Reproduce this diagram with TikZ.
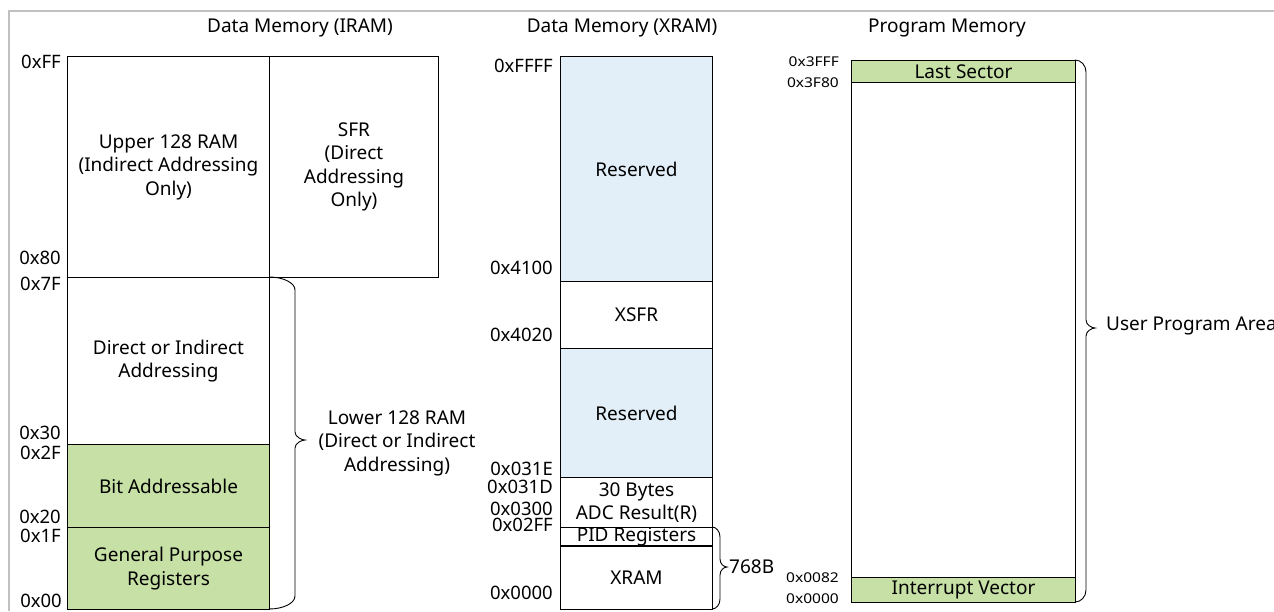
\documentclass[tikz,border=0pt]{standalone}
\usepackage{fontspec}
\usepackage{graphicx}
\setmainfont{Noto Sans}
\definecolor{grn}{RGB}{198,224,165}
\definecolor{blu}{RGB}{226,239,248}
\definecolor{frm}{RGB}{192,192,192}
\newcommand{\mainsz}{\fontsize{19}{23.5}\selectfont}
\newcommand{\addrsz}{\fontsize{18.5}{20}\selectfont}
\newcommand{\smallsz}{\fontsize{13.5}{15}\selectfont}
\newcommand{\sml}[1]{\scalebox{1.15}[1]{#1}}
\tikzset{
  region/.style={draw, line width=1pt, inner sep=0pt, anchor=north west, align=center, font=\mainsz},
  addr/.style={anchor=east, inner sep=0pt, font=\addrsz},
  saddr/.style={anchor=east, inner sep=0pt, font=\smallsz},
  ttl/.style={inner sep=0pt, font=\mainsz},
  brc/.style={draw, line width=0.9pt}
}
% brace: x0, ytop, ybot, width-to-vertical, corner height, tip x, tip y
\newcommand{\membrace}[7]{%
  \draw[brc] (#1,-#2) arc[start angle=90, end angle=0, x radius=#4, y radius=#5]
    -- ({#1+#4},{-#7+8}) .. controls ({#1+#4},{-#7+3}) and ({#6-3},{-#7}) .. (#6,-#7)
    .. controls ({#6-3},{-#7}) and ({#1+#4},{-#7-3}) .. ({#1+#4},{-#7-8})
    -- ({#1+#4},{-#3+#5}) arc[start angle=0, end angle=-90, x radius=#4, y radius=#5];}
\begin{document}
\begin{tikzpicture}[x=1pt,y=1pt]
\useasboundingbox (0,0) rectangle (1274,-611);
% frame
\draw[frm, line width=1.5pt] (9,-611) -- (9,-11) -- (1274,-11);
% titles
\node[ttl] (t1) at (300,-28) {Data Memory (IRAM)};
\node[ttl] (t2) at (622,-28) {Data Memory (XRAM)};
\node[ttl] (t3) at (947,-28) {Program Memory};
% IRAM
\node[region, minimum width=202pt, minimum height=221pt] (upper) at (67,-56) {Upper 128 RAM\\(Indirect Addressing\\Only)};
\node[region, minimum width=169pt, minimum height=221pt] (sfr) at (269,-56) {SFR\\(Direct\\Addressing\\Only)};
\node[region, minimum width=202pt, minimum height=167pt] (dir) at (67,-277) {Direct or Indirect\\Addressing};
\node[region, fill=grn, minimum width=202pt, minimum height=83pt] (bit) at (67,-444) {Bit Addressable};
\node[region, fill=grn, minimum width=202pt, minimum height=82pt] (gpr) at (67,-527) {General Purpose\\Registers};
\node[addr] (a1) at (61,-62) {0xFF};
\node[addr] (a2) at (61,-258) {0x80};
\node[addr] (a3) at (61,-284) {0x7F};
\node[addr] (a4) at (61,-433) {0x30};
\node[addr] (a5) at (61,-453) {0x2F};
\node[addr] (a6) at (61,-517) {0x20};
\node[addr] (a7) at (61,-536) {0x1F};
\node[addr] (a8) at (62,-601) {0x00};
\membrace{269}{277}{609}{26}{13}{305}{440}
\node[ttl, align=center] (low) at (397,-443) {Lower 128 RAM\\(Direct or Indirect\\Addressing)};
% XRAM
\node[region, fill=blu, minimum width=152pt, minimum height=225pt] (res1) at (560,-56) {Reserved};
\node[region, minimum width=152pt, minimum height=67pt] (xsfr) at (560,-281) {XSFR};
\node[region, fill=blu, minimum width=152pt, minimum height=129pt] (res2) at (560,-348) {Reserved};
\node[region, minimum width=152pt, minimum height=50pt] (adc) at (560,-477) {30 Bytes\\ADC Result(R)};
\node[region, minimum width=152pt, minimum height=18pt] (pid) at (560,-527) {PID Registers};
\node[region, minimum width=152pt, minimum height=64pt] (xram) at (560,-545) {XRAM};
\node[addr] (b1) at (553,-66) {0xFFFF};
\node[addr] (b2) at (553,-268) {0x4100};
\node[addr] (b3) at (553,-335) {0x4020};
\node[addr] (b4) at (553,-469) {0x031E};
\node[addr] (b5) at (553,-487) {0x031D};
\node[addr] (b6) at (553,-509) {0x0300};
\node[addr] (b7) at (553,-525) {0x02FF};
\node[addr] (b8) at (553,-593) {0x0000};
\membrace{712}{527}{609}{8}{10}{727}{567}
\node[ttl, anchor=west] (sz) at (729,-567) {768B};
% Program memory
\node[region, fill=grn, minimum width=224pt, minimum height=22pt] (last) at (851,-60) {Last Sector};
\node[region, minimum width=224pt, minimum height=495pt] (user) at (851,-82) {};
\node[region, fill=grn, minimum width=224pt, minimum height=25pt] (iv) at (851,-577) {Interrupt Vector};
\node[saddr] (c1) at (839,-62) {\sml{0x3FFF}};
\node[saddr] (c2) at (839,-83) {\sml{0x3F80}};
\node[saddr] (c3) at (839,-578) {\sml{0x0082}};
\node[saddr] (c4) at (839,-599) {\sml{0x0000}};
\membrace{1075}{60}{602}{11}{12}{1095}{328}
\node[ttl, anchor=west] (upa) at (1106,-326) {User Program Area};
\end{tikzpicture}
\end{document}
